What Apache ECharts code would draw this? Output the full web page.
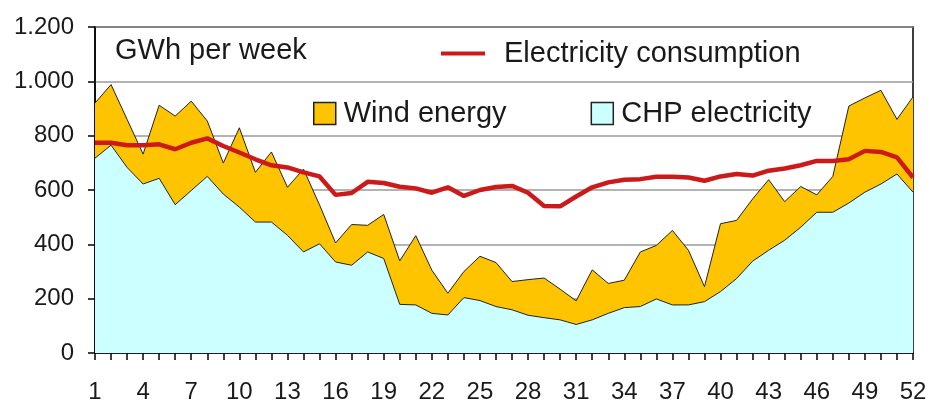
<!DOCTYPE html>
<html>
<head>
<meta charset="utf-8">
<script src="https://cdn.jsdelivr.net/npm/echarts@6/dist/echarts.min.js"></script>
<style>
  html, body { margin: 0; padding: 0; background: #fff; }
  #showChart { width: 930px; height: 404px; }
</style>
</head>
<body>
<div id="showChart"></div>
<script>
// weeks of the year
const weeks = ['1','2','3','4','5','6','7','8','9','10','11','12','13','14','15','16','17','18','19','20',
  '21','22','23','24','25','26','27','28','29','30','31','32','33','34','35','36','37','38','39','40',
  '41','42','43','44','45','46','47','48','49','50','51','52'];

// GWh per week
const chpElectricity = [717,765,683,622,643,546,598,650,585,537, 482,482,433,372,402,335,323,372,348,179,
  177,146,140,204,193,171,159,139,130,122, 105,122,146,167,171,199,177,177,189,226,
  274,338,378,415,463,518,518,552,592,622, 659,592];
const windEnergy = [203,223,177,110,269,326,329,204,114,292, 183,258,177,305,143,70,150,98,162,160,
  255,159,80,96,163,162,104,131,146,113, 87,184,110,101,201,197,274,201,55,250,
  214,229,260,142,150,64,132,357,347,345, 201,351];
const consumption = [774,774,765,765,768,750,774,790,762,738, 713,691,683,665,650,582,589,630,626,612,
  606,590,610,578,600,611,615,590,541,540, 576,610,628,638,640,649,649,646,634,650,
  659,653,671,679,691,707,707,713,744,740, 720,646];

const yTicks = [0, 200, 400, 600, 800, 1000, 1200];

const font = 'Liberation Sans, Arial, sans-serif';
const textColor = '#1a1a1a';

function fmtThousands(v) {
    if (v < 1000) return String(v);
    return Math.floor(v / 1000) + '.' + String(v % 1000).padStart(3, '0');
}

const myChart = echarts.init(document.getElementById('showChart'));
const option = {
    animation: false,
    backgroundColor: '#fff',
    title: {
        text: 'GWh per week',
        left: 110,
        top: 31,
        textStyle: { fontFamily: font, fontSize: 29, fontWeight: 'normal', color: textColor }
    },
    legend: [{
        data: [{ name: 'Electricity consumption', icon: 'rect' }],
        left: 436,
        top: 34,
        itemWidth: 44,
        itemHeight: 4,
        textStyle: { fontFamily: font, fontSize: 29, color: textColor, padding: [0, 0, 0, 14] }
    }, {
        data: [{ name: 'Wind energy', icon: 'rect' }, { name: 'CHP electricity', icon: 'rect' }],
        left: 308,
        top: 94,
        itemWidth: 22,
        itemHeight: 22,
        itemGap: 84,
        itemStyle: { borderColor: '#222', borderWidth: 1.5 },
        textStyle: { fontFamily: font, fontSize: 29, color: textColor, padding: [0, 0, 0, 3] }
    }],
    grid: {
        left: 95,
        right: 17,
        top: 27,
        bottom: 49,
        show: true,
        borderColor: '#000',
        borderWidth: 1.5
    },
    xAxis: {
        type: 'category',
        data: weeks,
        boundaryGap: false,
        axisLine: { lineStyle: { color: '#000', width: 1.5 } },
        axisTick: { show: true, interval: 0, length: 7, lineStyle: { color: '#000', width: 1.5 } },
        axisLabel: { interval: 2, margin: 27, fontFamily: font, fontSize: 24, color: textColor },
        splitLine: { show: false }
    },
    yAxis: {
        type: 'value',
        min: yTicks[0],
        max: yTicks[yTicks.length - 1],
        interval: 200,
        axisLine: { show: true, lineStyle: { color: '#000', width: 1.5 } },
        axisTick: { show: true, length: 7, lineStyle: { color: '#000', width: 1.5 } },
        axisLabel: { margin: 21, fontFamily: font, fontSize: 24, color: textColor, formatter: fmtThousands },
        splitLine: { show: true, lineStyle: { color: '#9a9a9a', width: 1.5 } }
    },
    series: [{
        name: 'CHP electricity',
        type: 'line',
        stack: 'prod',
        data: chpElectricity,
        symbol: 'none',
        z: 3,
        itemStyle: { color: '#CCFFFF' },
        lineStyle: { color: '#222', width: 1 },
        areaStyle: { color: '#CCFFFF', opacity: 1 }
    }, {
        name: 'Wind energy',
        type: 'line',
        stack: 'prod',
        data: windEnergy,
        symbol: 'none',
        z: 2,
        itemStyle: { color: '#FFC400' },
        lineStyle: { color: '#222', width: 1 },
        areaStyle: { color: '#FFC400', opacity: 1 }
    }, {
        name: 'Electricity consumption',
        type: 'line',
        data: consumption,
        symbol: 'none',
        z: 5,
        itemStyle: { color: '#CC1A1A' },
        lineStyle: { color: '#CC1A1A', width: 4.5 }
    }]
};
myChart.setOption(option);
</script>
</body>
</html>
